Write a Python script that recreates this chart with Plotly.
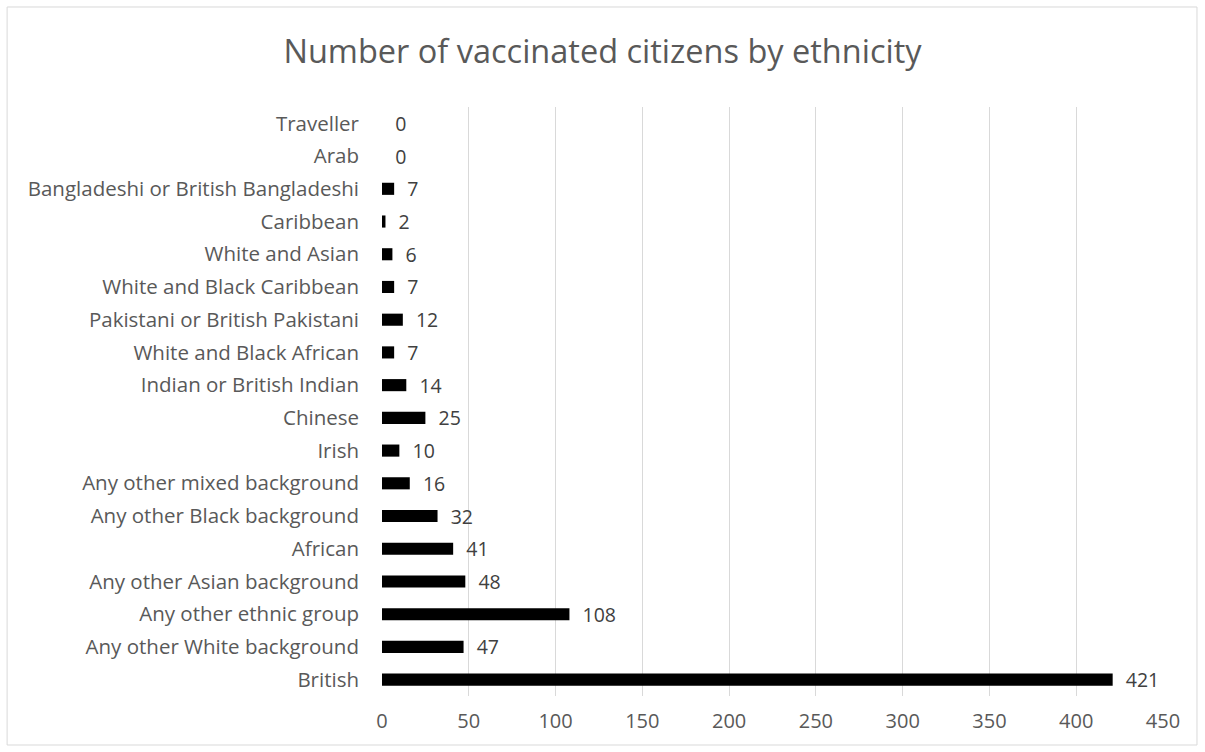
import plotly.graph_objects as go

categories = ["British", "Any other White background", "Any other ethnic group",
              "Any other Asian background", "African", "Any other Black background",
              "Any other mixed background", "Irish", "Chinese", "Indian or British Indian",
              "White and Black African", "Pakistani or British Pakistani",
              "White and Black Caribbean", "White and Asian", "Caribbean",
              "Bangladeshi or British Bangladeshi", "Arab", "Traveller"]
values = [421, 47, 108, 48, 41, 32, 16, 10, 25, 14, 7, 12, 7, 6, 2, 7, 0, 0]
x_ticks = [0, 50, 100, 150, 200, 250, 300, 350, 400, 450]

FONT = "Open Sans"

fig = go.Figure(go.Bar(
    x=values, y=categories, orientation="h",
    marker=dict(color="black", line=dict(width=0)),
    text=["  " + str(v) for v in values], textposition="outside",
    constraintext="none",
    textfont=dict(family=FONT, size=19.5, color="#404040"),
    cliponaxis=False, width=0.37,
))

fig.update_layout(
    width=1205, height=752,
    margin=dict(l=382, r=42, t=107, b=56),
    paper_bgcolor="white", plot_bgcolor="white",
    title=dict(text="Number of vaccinated citizens by ethnicity", x=0.5, xref="container",
               xanchor="center", y=1 - 52/752, yanchor="middle",
               font=dict(family=FONT, size=32.5, color="#595959")),
    font=dict(family=FONT, size=19.5, color="#595959"),
    xaxis=dict(range=[0, 450], tickvals=x_ticks, showgrid=True, gridcolor="#d9d9d9",
               gridwidth=1, zeroline=False, showline=False, ticks="",
               tickfont=dict(family=FONT, size=20, color="#595959"), ticklabelstandoff=11),
    yaxis=dict(categoryorder="array", categoryarray=categories, showgrid=False,
               zeroline=False, showline=False, ticks="",
               tickfont=dict(family=FONT, size=20.5, color="#595959"), ticklabelstandoff=22),
    showlegend=False,
    shapes=[dict(type="rect", xref="paper", yref="paper", x0=-0.480, x1=1.0435,
                 y0=-0.0832, y1=1.1698, line=dict(color="#d9d9d9", width=1),
                 fillcolor="rgba(0,0,0,0)", layer="below")],
)

fig.write_html("out.html")
